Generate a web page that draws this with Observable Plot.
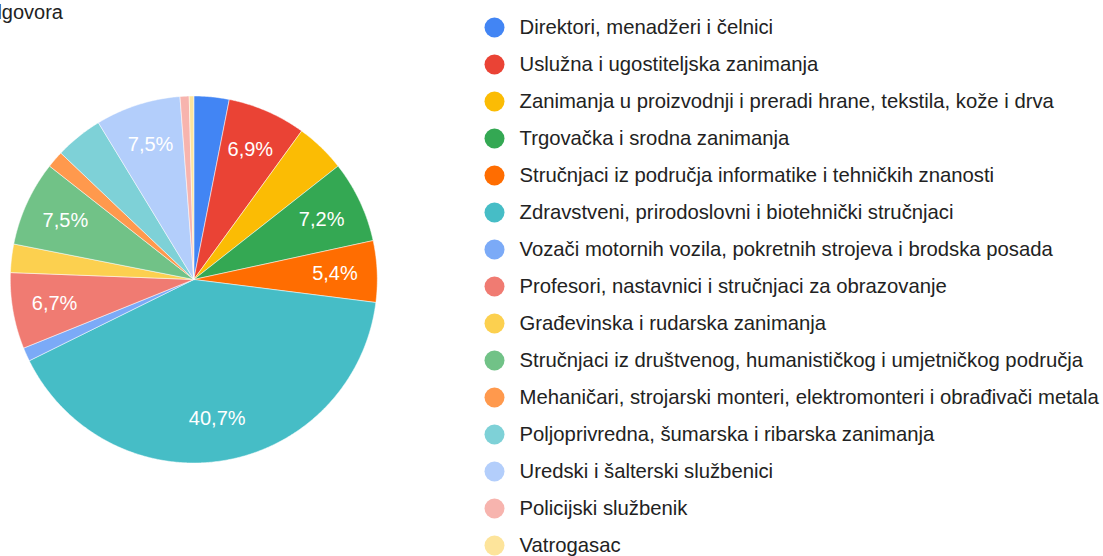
<!DOCTYPE html>
<html><head><meta charset="utf-8">
<script src="https://cdn.jsdelivr.net/npm/d3@7"></script>
<script src="https://cdn.jsdelivr.net/npm/@observablehq/plot@0.6"></script>
<style>
html,body{margin:0;padding:0;background:#fff;}
body{width:1103px;height:556px;overflow:hidden;position:relative;font-family:"Liberation Sans", Arial, sans-serif;}
#row{display:flex;flex-direction:row;align-items:flex-start;}
#row svg{display:block;}
#count{position:absolute;right:1040px;top:1px;font-size:20px;line-height:22px;color:#222;white-space:nowrap;}
</style></head>
<body>
<div id="row"><div id="pie"></div><div id="legend"></div></div>
<div id="count"></div>
<script>
const categories = [
  "Direktori, menadžeri i čelnici",
  "Uslužna i ugostiteljska zanimanja",
  "Zanimanja u proizvodnji i preradi hrane, tekstila, kože i drva",
  "Trgovačka i srodna zanimanja",
  "Stručnjaci iz područja informatike i tehničkih znanosti",
  "Zdravstveni, prirodoslovni i biotehnički stručnjaci",
  "Vozači motornih vozila, pokretnih strojeva i brodska posada",
  "Profesori, nastavnici i stručnjaci za obrazovanje",
  "Građevinska i rudarska zanimanja",
  "Stručnjaci iz društvenog, humanističkog i umjetničkog područja",
  "Mehaničari, strojarski monteri, elektromonteri i obrađivači metala",
  "Poljoprivredna, šumarska i ribarska zanimanja",
  "Uredski i šalterski službenici",
  "Policijski službenik",
  "Vatrogasac"
];
const values = [3.1, 6.9, 4.4, 7.2, 5.4, 40.7, 1.2, 6.7, 2.5, 7.5, 1.5, 4.2, 7.5, 0.8, 0.4];
const colors = ["#4285F4","#EA4335","#FBBC04","#34A853","#FF6D01","#46BDC6","#7BAAF7","#F07B72","#FCD04F","#71C287","#FF994D","#7ED1D7","#B3CEFB","#F7B4AE","#FDE49B"];
const countLabel = "odgovora";

document.getElementById("count").textContent = countLabel;

const total = d3.sum(values);
const slices = [];
let acc = 0;
categories.forEach((c, i) => {
  const a0 = acc / total * 2 * Math.PI;
  acc += values[i];
  const a1 = acc / total * 2 * Math.PI;
  slices.push({c, v: values[i], a0, a1});
});
const outline = slices.flatMap(s => {
  const n = Math.max(2, Math.ceil((s.a1 - s.a0) / (Math.PI / 360)));
  const pts = [{c: s.c, x: 0, y: 0}];
  for (let k = 0; k <= n; k++) {
    const t = s.a0 + (s.a1 - s.a0) * k / n;
    pts.push({c: s.c, x: Math.sin(t), y: Math.cos(t)});
  }
  pts.push({c: s.c, x: 0, y: 0});
  return pts;
});
const labels = slices.filter(s => s.v >= 5).map(s => {
  const m = (s.a0 + s.a1) / 2;
  return {x: 0.77 * Math.sin(m), y: 0.77 * Math.cos(m), text: s.v.toFixed(1).replace(".", ",") + "%"};
});

const cx = 193.3, cy = 279, R = 183.5;
const pie = Plot.plot({
  width: 470, height: 556, margin: 0,
  style: {fontFamily: "'Liberation Sans', Arial, sans-serif", background: "transparent"},
  x: {domain: [-1, 1], range: [cx - R, cx + R], axis: null},
  y: {domain: [-1, 1], range: [cy + R, cy - R], axis: null},
  color: {domain: categories, range: colors},
  marks: [
    Plot.line(outline, {x: "x", y: "y", z: "c", fill: "c", stroke: "white", strokeWidth: 0.5, curve: "linear"}),
    Plot.text(labels, {x: "x", y: "y", text: "text", fill: "white", fontSize: 20})
  ]
});
document.getElementById("pie").appendChild(pie);

const legend = Plot.plot({
  width: 633, height: 556, margin: 0,
  style: {fontFamily: "'Liberation Sans', Arial, sans-serif", background: "transparent", overflow: "visible"},
  y: {type: "point", domain: categories, range: [23.5, 548], padding: 0, axis: null},
  color: {domain: categories, range: colors},
  marks: [
    Plot.dot(categories, {y: d => d, fill: d => d, r: 10, frameAnchor: "left", dx: 24}),
    Plot.text(categories, {y: d => d, text: d => d, frameAnchor: "left", textAnchor: "start", dx: 49, fontSize: 20.3, fill: "#222"})
  ]
});
document.getElementById("legend").appendChild(legend);
</script>
</body></html>
